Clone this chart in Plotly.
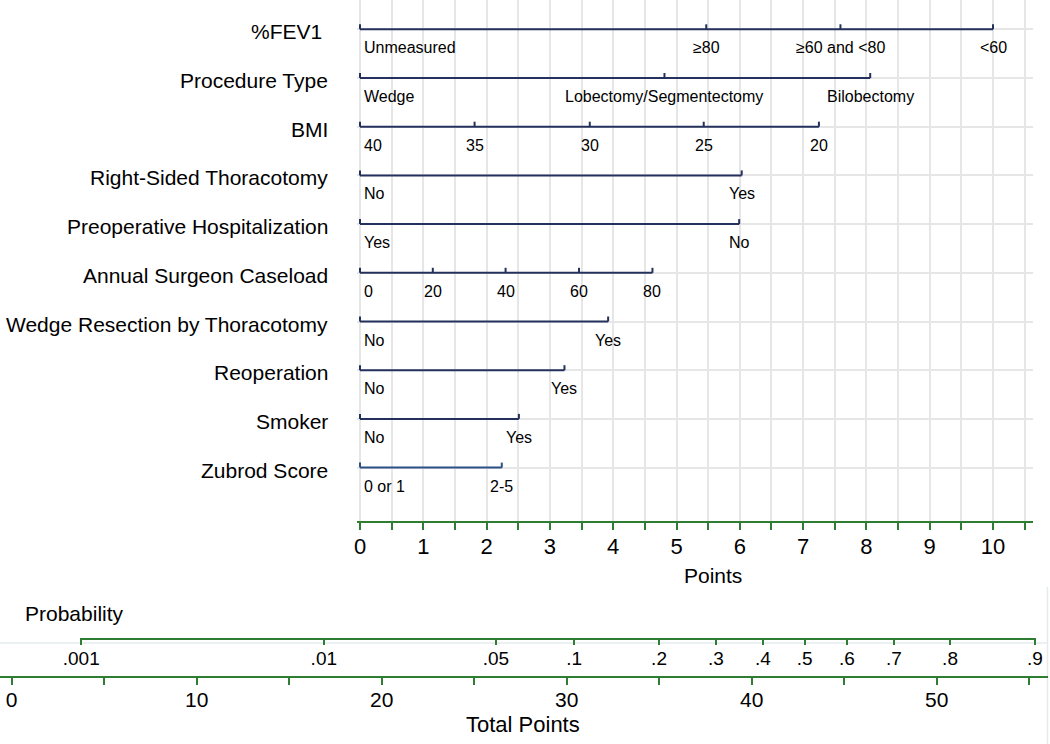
import plotly.graph_objects as go

# ---------------- data ----------------
row_names = ["%FEV1\u00a0", "Procedure Type", "BMI", "Right-Sided Thoracotomy",
             "Preoperative Hospitalization", "Annual Surgeon Caseload",
             "Wedge Resection by Thoracotomy", "Reoperation", "Smoker", "Zubrod Score"]

fev1_labels = ["Unmeasured", "\u226580", "\u226560 and <80", "<60"]
fev1_points = [0, 5.47, 7.59, 10.0]
proc_labels = ["Wedge", "Lobectomy/Segmentectomy", "Bilobectomy"]
proc_points = [0, 4.81, 8.06]
bmi_labels = ["40", "35", "30", "25", "20"]
bmi_points = [0, 1.81, 3.63, 5.43, 7.25]
rst_labels = ["No", "Yes"]
rst_points = [0, 6.03]
preop_labels = ["Yes", "No"]
preop_points = [0, 5.99]
caseload_labels = ["0", "20", "40", "60", "80"]
caseload_points = [0, 1.15, 2.30, 3.46, 4.62]
wedge_labels = ["No", "Yes"]
wedge_points = [0, 3.92]
reop_labels = ["No", "Yes"]
reop_points = [0, 3.23]
smoker_labels = ["No", "Yes"]
smoker_points = [0, 2.51]
zubrod_labels = ["0 or 1", "2-5"]
zubrod_points = [0, 2.24]

point_ticks = [i * 0.5 for i in range(22)]           # 0 .. 10.5
point_ticklabels = [str(int(v)) if v == int(v) else "" for v in point_ticks]

total_ticks = list(range(0, 60, 5))                   # 0 .. 55
total_ticklabels = [str(v) if v % 10 == 0 else "" for v in total_ticks]

prob_labels = [".001", ".01", ".05", ".1", ".2", ".3", ".4", ".5", ".6", ".7", ".8", ".9"]
prob_positions = [3.76, 16.87, 26.17, 30.40, 34.99, 38.07, 40.60, 42.86, 45.15, 47.69, 50.72, 55.31]

scales = [
    (fev1_labels, fev1_points), (proc_labels, proc_points), (bmi_labels, bmi_points),
    (rst_labels, rst_points), (preop_labels, preop_points), (caseload_labels, caseload_points),
    (wedge_labels, wedge_points), (reop_labels, reop_points), (smoker_labels, smoker_points),
    (zubrod_labels, zubrod_points),
]

# ---------------- style / layout ----------------
W, H = 1050, 744
FONT = "Liberation Sans, Arial, Helvetica, sans-serif"
NAVY = "#24315c"
ZUB = "#2b4f86"
GREEN = "#2e7d32"
GRID = "#e6e6e6"
ROW0, ROWSTEP = 29.3, 48.7          # pixel y of first row and spacing
PAX_Y = 521                          # points axis line (px)
PX_PER_PT = 63.3
X0_PX = 360
TP_X0, TP_PX = 11.7, 18.5
TP_Y, PR_Y = 676, 637.7
TICK_UP = 5 / ROWSTEP

fig = go.Figure()
annotations = []

for r, (labels, pts) in enumerate(scales):
    xs = [pts[0], pts[-1], None]
    ys = [r, r, None]
    for p in pts:
        xs += [p, p, None]
        ys += [r, r - TICK_UP, None]
    fig.add_trace(go.Scatter(x=xs, y=ys, mode="lines", xaxis="x", yaxis="y",
                             line=dict(color=ZUB if r == 9 else NAVY, width=2),
                             hoverinfo="skip", showlegend=False))
    for i, (lab, p) in enumerate(zip(labels, pts)):
        annotations.append(dict(
            x=p, y=r + 18.5 / ROWSTEP, xref="x", yref="y", text=lab, showarrow=False,
            xanchor="left" if i == 0 else "center", yanchor="middle",
            xshift=2 if i == 0 else 0, font=dict(size=16, color="black", family=FONT)))
    annotations.append(dict(
        x=330 / W, y=r + 2.5 / ROWSTEP, xref="paper", yref="y", text=row_names[r],
        showarrow=False, xanchor="right", yanchor="middle",
        font=dict(size=21, color="black", family=FONT)))

# hidden traces so the bottom scales render
fig.add_trace(go.Scatter(x=total_ticks, y=[0.5] * len(total_ticks), xaxis="x2", yaxis="y2",
                         mode="markers", marker=dict(opacity=0), hoverinfo="skip", showlegend=False))
fig.add_trace(go.Scatter(x=prob_positions, y=[0.5] * len(prob_positions), xaxis="x3", yaxis="y3",
                         mode="markers", marker=dict(opacity=0), hoverinfo="skip", showlegend=False))

annotations += [
    dict(x=713 / W, y=1 - 575 / H, xref="paper", yref="paper", text="Points", showarrow=False,
         xanchor="center", yanchor="middle", font=dict(size=21, color="black", family=FONT)),
    dict(x=23 / W, y=1 - 613 / H, xref="paper", yref="paper", text="Probability", showarrow=False,
         xanchor="left", yanchor="middle", font=dict(size=21, color="black", family=FONT)),
    dict(x=523 / W, y=1 - 724 / H, xref="paper", yref="paper", text="Total Points", showarrow=False,
         xanchor="center", yanchor="middle", font=dict(size=22, color="black", family=FONT)),
]

px_left = 357
x_lo = (px_left - X0_PX) / PX_PER_PT
x_hi = (1033 - X0_PX) / PX_PER_PT
y_top = -ROW0 / ROWSTEP
y_bot = (PAX_Y - ROW0) / ROWSTEP

tp_lo = (0 - TP_X0) / TP_PX
tp_hi = (1048 - TP_X0) / TP_PX
pr_lo, pr_hi = 3.70, 55.37
pr_dom = [(TP_X0 + pr_lo * TP_PX) / W, (TP_X0 + pr_hi * TP_PX) / W]

fig.update_layout(
    template="none",
    width=W, height=H, margin=dict(l=0, r=0, t=0, b=0, pad=0, autoexpand=False),
    paper_bgcolor="white", plot_bgcolor="rgba(0,0,0,0)",
    font=dict(family=FONT, color="black"),
    showlegend=False,
    xaxis=dict(domain=[px_left / W, 1033 / W], range=[x_lo, x_hi], anchor="y", automargin=False,
               tickmode="array", tickvals=point_ticks, ticktext=point_ticklabels,
               ticks="outside", ticklen=7, tickwidth=1.5, tickcolor=GREEN,
               ticklabelstandoff=-2,
               showline=True, linecolor=GREEN, linewidth=2,
               showgrid=True, gridcolor=GRID, gridwidth=2, zeroline=False,
               tickfont=dict(size=22, color="black", family=FONT), fixedrange=True),
    yaxis=dict(domain=[1 - PAX_Y / H, 1], range=[y_bot, y_top], anchor="x", automargin=False,
               tickmode="array", tickvals=list(range(10)), showticklabels=False, ticks="",
               showgrid=True, gridcolor=GRID, gridwidth=2, zeroline=False, showline=False,
               fixedrange=True),
    xaxis2=dict(domain=[0, 1048 / W], range=[tp_lo, tp_hi], anchor="y2", automargin=False,
                tickmode="array", tickvals=total_ticks, ticktext=total_ticklabels,
                ticks="outside", ticklen=7, tickwidth=1.5, tickcolor=GREEN,
                ticklabelstandoff=-3,
                showline=True, linecolor=GREEN, linewidth=2, showgrid=False, zeroline=False,
                tickfont=dict(size=21, color="black", family=FONT), fixedrange=True),
    yaxis2=dict(domain=[1 - TP_Y / H, 1 - TP_Y / H + 0.02], range=[0, 1], anchor="x2",
                automargin=False, visible=False, fixedrange=True),
    xaxis3=dict(domain=pr_dom, range=[pr_lo, pr_hi], anchor="y3", automargin=False,
                tickmode="array", tickvals=prob_positions, ticktext=prob_labels,
                ticks="outside", ticklen=5, tickwidth=1.5, tickcolor=GREEN,
                ticklabelstandoff=-3,
                showline=True, linecolor=GREEN, linewidth=2, showgrid=False, zeroline=False,
                tickfont=dict(size=19, color="black", family=FONT), fixedrange=True),
    yaxis3=dict(domain=[1 - PR_Y / H, 1 - PR_Y / H + 0.02], range=[0, 1], anchor="x3",
                automargin=False, visible=False, fixedrange=True),
    annotations=annotations,
    shapes=[
        dict(type="line", xref="paper", yref="paper", x0=1047.5 / W, x1=1047.5 / W,
             y0=0, y1=1 - 587 / H, line=dict(color="#e4ebef", width=1.5), layer="below"),
        dict(type="line", xref="paper", yref="paper", x0=0, x1=1048 / W,
             y0=1 - 643 / H, y1=1 - 643 / H, line=dict(color="#e4ebef", width=1.5), layer="below"),
    ],
)

fig.write_html("out.html", config={"displayModeBar": False},
               post_script="document.body.style.margin='0';document.body.style.overflow='hidden';")
